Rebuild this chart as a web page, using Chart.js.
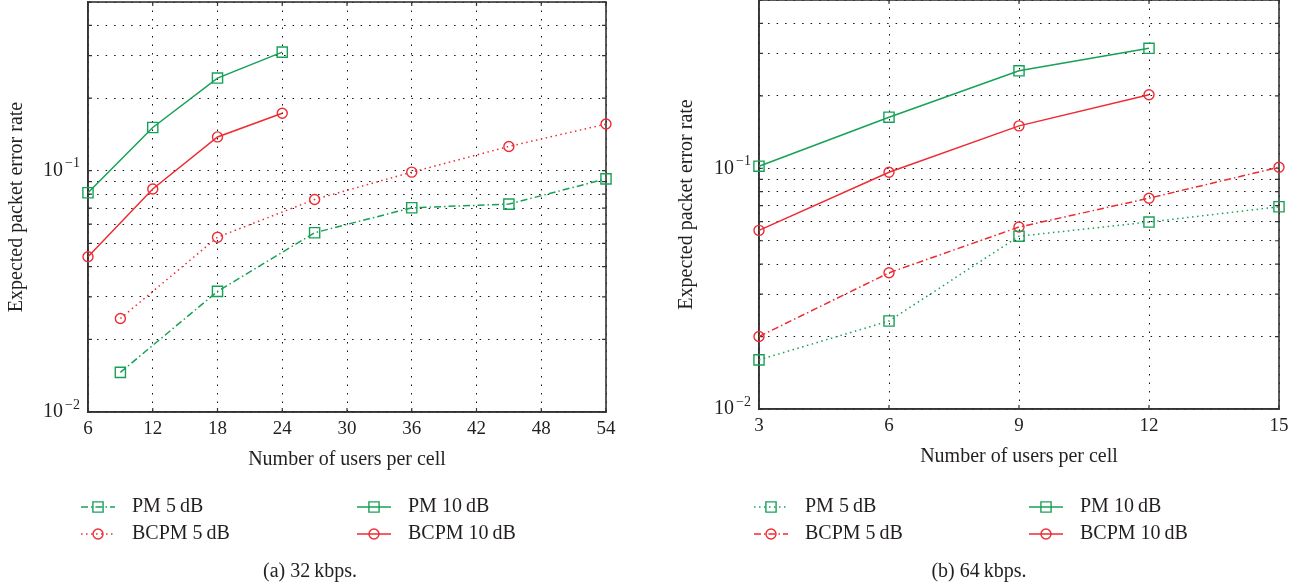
<!DOCTYPE html>
<html lang="en">
  <head>
    <meta charset="UTF-8" />
    <title>Expected packet error rate vs. users per cell</title>
    <script src="https://cdn.jsdelivr.net/npm/chart.js"></script>
    <style>
      * {
        margin: 0;
        padding: 0;
        box-sizing: border-box;
      }

      body {
        width: 1306px;
        height: 588px;
        background: #fff;
        position: relative;
        overflow: hidden;
      }

      .panel {
        position: absolute;
        top: 0;
        height: 588px;
      }

      #left {
        left: 0;
        width: 665px;
      }

      #right {
        left: 670px;
        width: 636px;
      }
    </style>
  </head>
  <body>
    <div class="panel" id="left"><canvas id="chart32"></canvas></div>
    <div class="panel" id="right"><canvas id="chart64"></canvas></div>

    <script>
      // (a) 32 kbps
      const users32Low = [9, 18, 27, 36, 45, 54];
      const users32High = [6, 12, 18, 24];
      const pm5_32 = [0.0146, 0.0316, 0.0553, 0.0702, 0.0727, 0.0925];
      const bcpm5_32 = [0.0244, 0.053, 0.076, 0.0986, 0.126, 0.156];
      const pm10_32 = [0.081, 0.151, 0.242, 0.31];
      const bcpm10_32 = [0.044, 0.084, 0.138, 0.173];
      const xTicks32 = { min: 6, max: 54, step: 6 };

      // (b) 64 kbps
      const users64Low = [3, 6, 9, 12, 15];
      const users64High = [3, 6, 9, 12];
      const pm5_64 = [0.016, 0.0232, 0.0522, 0.0598, 0.0692];
      const bcpm5_64 = [0.02, 0.0368, 0.057, 0.0751, 0.101];
      const pm10_64 = [0.102, 0.163, 0.254, 0.315];
      const bcpm10_64 = [0.0552, 0.0963, 0.15, 0.202];
      const xTicks64 = { min: 3, max: 15, step: 3 };

      // log axis, labelled only at the decades
      const yRange = { min: 0.01, max: 0.5 };
      const yLabelExps = [-2, -1];

      const FONT = "'Liberation Serif', 'DejaVu Serif', serif";
      const INK = "#231f20";
      const GREEN = "#17a157";
      const RED = "#ee2b32";
      const DOTTED = [1.5, 3.5];
      const DASHDOT = [7, 3, 1.5, 3];

      const pts = (xs, ys) => xs.map((x, i) => ({ x: x, y: ys[i] }));

      function series(label, xs, ys, color, dash, marker) {
        return {
          label: label,
          data: pts(xs, ys),
          borderColor: color,
          borderWidth: 1.5,
          borderDash: dash,
          pointStyle: marker,
          pointRadius: marker === "rect" ? 7.2 : 5,
          pointBorderWidth: 1.4,
          pointBorderColor: color,
          pointBackgroundColor: "rgba(0,0,0,0)",
          fill: false,
          tension: 0,
          clip: false,
        };
      }

      // box, inward ticks, decade labels, legend and caption
      const framePlugin = {
        id: "frame",
        beforeDatasetsDraw(chart) {
          const { ctx, chartArea: a, scales } = chart;
          const x = scales.x;
          const y = scales.y;
          ctx.save();
          ctx.strokeStyle = "#333";
          ctx.lineWidth = 1.2;
          ctx.beginPath();
          x.ticks.forEach((t) => {
            const px = x.getPixelForValue(t.value);
            ctx.moveTo(px, a.bottom);
            ctx.lineTo(px, a.bottom - 4);
            ctx.moveTo(px, a.top);
            ctx.lineTo(px, a.top + 4);
          });
          y.ticks.forEach((t) => {
            const py = y.getPixelForValue(t.value);
            ctx.moveTo(a.left, py);
            ctx.lineTo(a.left + 4, py);
            ctx.moveTo(a.right, py);
            ctx.lineTo(a.right - 4, py);
          });
          ctx.stroke();
          ctx.lineWidth = 1.6;
          ctx.strokeRect(a.left, a.top, a.right - a.left, a.bottom - a.top);
          ctx.restore();
        },
        afterDraw(chart, args, opts) {
          const { ctx, chartArea: a, scales } = chart;
          const y = scales.y;
          ctx.save();
          ctx.fillStyle = INK;

          // 10^n labels
          yLabelExps.forEach((e) => {
            const py = y.getPixelForValue(Math.pow(10, e));
            const exp = "\u2212" + Math.abs(e);
            ctx.font = "14px " + FONT;
            const ew = ctx.measureText(exp).width;
            ctx.textAlign = "right";
            ctx.textBaseline = "middle";
            ctx.fillText(exp, a.left - 8, py - 7);
            ctx.font = "20px " + FONT;
            ctx.fillText("10", a.left - 10 - ew, py);
          });

          // legend: two columns, two rows
          const lg = opts.legend;
          chart.data.datasets.forEach((ds, i) => {
            const mx = lg.cols[Math.floor(i / 2)];
            const my = lg.rows[i % 2];
            ctx.strokeStyle = ds.borderColor;
            ctx.lineWidth = ds.borderWidth;
            ctx.setLineDash(ds.borderDash || []);
            ctx.beginPath();
            ctx.moveTo(mx - 17, my);
            ctx.lineTo(mx + 17, my);
            ctx.stroke();
            ctx.setLineDash([]);
            ctx.lineWidth = ds.pointBorderWidth;
            ctx.beginPath();
            if (ds.pointStyle === "rect") {
              const s = ds.pointRadius * Math.SQRT1_2;
              ctx.rect(mx - s, my - s, 2 * s, 2 * s);
            } else {
              ctx.arc(mx, my, ds.pointRadius, 0, Math.PI * 2);
            }
            ctx.stroke();
            ctx.font = "20px " + FONT;
            ctx.textAlign = "left";
            ctx.textBaseline = "middle";
            ctx.fillText(ds.label, mx + 34, my);
          });

          // caption
          ctx.font = "20px " + FONT;
          ctx.textAlign = "center";
          ctx.textBaseline = "middle";
          ctx.fillText(opts.caption.text, opts.caption.x, opts.caption.y);
          ctx.restore();
        },
      };

      function keepWholeMantissa(scale) {
        scale.ticks = scale.ticks.filter((t) => {
          const m = t.value / Math.pow(10, Math.floor(Math.log10(t.value) + 1e-9));
          return Math.abs(m - Math.round(m)) < 1e-6;
        });
      }

      function makeChart(id, datasets, xt, layout) {
        const dots = [1.5, 7];
        return new Chart(document.getElementById(id), {
          type: "line",
          data: { datasets: datasets },
          plugins: [framePlugin],
          options: {
            responsive: true,
            maintainAspectRatio: false,
            animation: false,
            layout: {
              autoPadding: false,
              padding: { top: layout.top, right: layout.right, bottom: layout.bottom, left: 0 },
            },
            scales: {
              x: {
                type: "linear",
                min: xt.min,
                max: xt.max,
                ticks: {
                  stepSize: xt.step,
                  autoSkip: false,
                  maxRotation: 0,
                  padding: 6,
                  color: INK,
                  font: { family: FONT, size: 19 },
                },
                grid: { color: "#111", lineWidth: 1, drawTicks: false },
                border: { display: true, color: "#333", width: 1.6, dash: dots },
                title: {
                  display: true,
                  text: "Number of users per cell",
                  color: INK,
                  padding: 0,
                  font: { family: FONT, size: 20 },
                },
                afterFit(s) {
                  s.height = layout.xHeight;
                },
              },
              y: {
                type: "logarithmic",
                min: yRange.min,
                max: yRange.max,
                ticks: { display: false, autoSkip: false },
                afterBuildTicks: keepWholeMantissa,
                grid: { color: "#111", lineWidth: 1, drawTicks: false },
                border: { display: true, color: "#333", width: 1.6, dash: dots },
                title: {
                  display: true,
                  text: "Expected packet error rate",
                  color: INK,
                  padding: { top: 5, bottom: 0 },
                  font: { family: FONT, size: 20 },
                },
                afterFit(s) {
                  s.width = layout.yWidth;
                },
              },
            },
            plugins: {
              legend: { display: false },
              tooltip: { enabled: false },
              frame: { legend: layout.legend, caption: layout.caption },
            },
          },
        });
      }

      makeChart(
        "chart32",
        [
          series("PM 5\u2009dB", users32Low, pm5_32, GREEN, DASHDOT, "rect"),
          series("BCPM 5\u2009dB", users32Low, bcpm5_32, RED, DOTTED, "circle"),
          series("PM 10\u2009dB", users32High, pm10_32, GREEN, [], "rect"),
          series("BCPM 10\u2009dB", users32High, bcpm10_32, RED, [], "circle"),
        ],
        xTicks32,
        {
          top: 2,
          right: 59,
          bottom: 116,
          xHeight: 60,
          yWidth: 88,
          legend: { cols: [98, 374], rows: [507, 534] },
          caption: { text: "(a) 32\u2009kbps.", x: 310, y: 572 },
        }
      );

      makeChart(
        "chart64",
        [
          series("PM 5\u2009dB", users64Low, pm5_64, GREEN, DOTTED, "rect"),
          series("BCPM 5\u2009dB", users64Low, bcpm5_64, RED, DASHDOT, "circle"),
          series("PM 10\u2009dB", users64High, pm10_64, GREEN, [], "rect"),
          series("BCPM 10\u2009dB", users64High, bcpm10_64, RED, [], "circle"),
        ],
        xTicks64,
        {
          top: 0,
          right: 27,
          bottom: 119,
          xHeight: 60,
          yWidth: 89,
          legend: { cols: [101, 376], rows: [507, 534] },
          caption: { text: "(b) 64\u2009kbps.", x: 309, y: 572 },
        }
      );
    </script>
  </body>
</html>
